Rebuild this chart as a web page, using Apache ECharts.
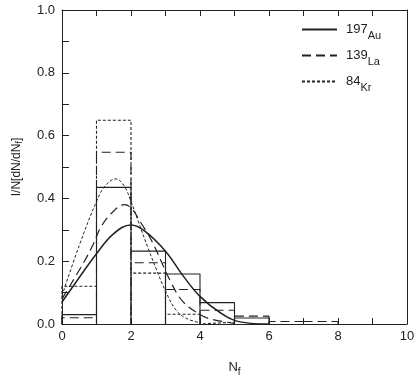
<!DOCTYPE html>
<html>
<head>
<meta charset="utf-8">
<script src="https://cdn.jsdelivr.net/npm/echarts@6/dist/echarts.min.js"></script>
<style>
  html, body { margin: 0; padding: 0; background: #fff; }
  #chart { width: 419px; height: 382px; }
</style>
</head>
<body>
<div id="chart"></div>
<script>
// histogram bins (Nf = 0..8, width 1)
var binEdges = [0, 1, 2, 3, 4, 5, 6, 7, 8];
var auHist = [0.03, 0.435, 0.232, 0.159, 0.068, 0.019, 0, 0];
var laHist = [0.02, 0.547, 0.195, 0.11, 0.044, 0.025, 0.008, 0.008];
var krHist = [0.12, 0.649, 0.162, 0.031, 0.006, 0, 0, 0];

// fitted curves
var auCurveX = [0, 0.5, 1, 1.5, 2, 2.4, 3, 3.5, 4, 4.6, 5.2, 6];
var auCurveY = [0.07, 0.148, 0.224, 0.288, 0.315, 0.296, 0.232, 0.155, 0.088, 0.035, 0.006, 0];
var laCurveX = [0, 0.65, 0.91, 1.15, 1.5, 1.8, 2, 2.3, 2.6, 3.15, 3.5, 4, 4.3, 5];
var laCurveY = [0.08, 0.2, 0.255, 0.313, 0.36, 0.38, 0.37, 0.32, 0.265, 0.135, 0.072, 0.03, 0.016, 0.002];
var krCurveX = [0, 0.5, 1, 1.25, 1.56, 1.8, 2, 2.2, 2.5, 2.75, 3, 3.3, 3.6, 4];
var krCurveY = [0.09, 0.25, 0.39, 0.44, 0.462, 0.44, 0.39, 0.33, 0.24, 0.17, 0.105, 0.045, 0.018, 0.004];

var xTicks = [0, 2, 4, 6, 8, 10];
var yTicks = ['0.0', '0.2', '0.4', '0.6', '0.8', '1.0'];

var legendNames = { Au: '{m|197}{s|Au}', La: '{m|139}{s|La}', Kr: '{m|84}{s|Kr}' };

function outline(values) {
    var pts = [];
    for (var i = 0; i < values.length; i++) {
        if (!values[i]) continue;
        pts.push([binEdges[i], 0], [binEdges[i], values[i]],
                 [binEdges[i + 1], values[i]], [binEdges[i + 1], 0]);
    }
    return pts;
}

function zip(xs, ys) {
    return xs.map(function (x, i) { return [x, ys[i]]; });
}

var ink = '#222';
var font = 'Liberation Sans';
var styles = {
    Au: { type: 'solid' },
    La: { type: [9, 5] },
    Kr: { type: [3, 2] }
};

function histSeries(name, values) {
    return {
        name: name + ' hist',
        type: 'line',
        data: outline(values),
        symbol: 'none',
        silent: true,
        itemStyle: { color: ink },
        lineStyle: { color: ink, width: 1.1, type: styles[name].type }
    };
}

function curveSeries(name, xs, ys, width) {
    return {
        name: name,
        type: 'line',
        data: zip(xs, ys),
        smooth: 0.4,
        symbol: 'none',
        itemStyle: { color: ink },
        lineStyle: { color: ink, width: width, type: styles[name].type }
    };
}

var chart = echarts.init(document.getElementById('chart'));
var option = {
    animation: false,
    color: [ink],
    textStyle: { fontFamily: font },
    grid: { left: 62, right: 12, top: 10, bottom: 58 },
    legend: {
        data: ['Au', 'La', 'Kr'],
        orient: 'vertical',
        left: 296,
        top: 18,
        itemWidth: 35,
        itemHeight: 10,
        itemGap: 8,
        itemStyle: { opacity: 0 },
        formatter: function (n) { return legendNames[n]; },
        textStyle: {
            padding: [0, 0, 0, 4],
            rich: {
                m: { fontSize: 13, color: ink, fontFamily: font },
                s: { fontSize: 11, color: ink, fontFamily: font, padding: [12, 0, 0, 0] }
            }
        }
    },
    xAxis: [{
        type: 'value',
        min: 0, max: 10, interval: 1,
        name: '{n|N}{f|f}',
        nameLocation: 'middle',
        nameGap: 34,
        nameTextStyle: {
            rich: {
                n: { fontSize: 13, color: ink, fontFamily: font },
                f: { fontSize: 10, color: ink, fontFamily: font, padding: [9, 0, 0, 0] }
            }
        },
        axisLine: { onZero: false, lineStyle: { color: ink, width: 1 } },
        axisTick: { inside: true, length: 6, lineStyle: { color: ink } },
        axisLabel: {
            margin: 6, fontSize: 13, color: ink,
            formatter: function (v) { return xTicks.indexOf(v) >= 0 ? String(v) : ''; }
        },
        splitLine: { show: false }
    }, {
        type: 'value',
        position: 'top',
        min: 0, max: 10, interval: 1,
        axisLine: { onZero: false, lineStyle: { color: ink, width: 1 } },
        axisTick: { inside: true, length: 6, lineStyle: { color: ink } },
        axisLabel: { show: false },
        splitLine: { show: false }
    }],
    yAxis: [{
        type: 'value',
        min: 0, max: 1, interval: 0.1,
        name: '{a|I/N[dN/dN}{f|f}{a|]}',
        nameLocation: 'middle',
        nameGap: 38,
        nameRotate: 90,
        nameTextStyle: {
            rich: {
                a: { fontSize: 12, color: ink, fontFamily: font },
                f: { fontSize: 9, color: ink, fontFamily: font, padding: [6, 0, 0, 0] }
            }
        },
        axisLine: { show: true, onZero: false, lineStyle: { color: ink, width: 1 } },
        axisTick: { show: true, inside: true, length: 7, lineStyle: { color: ink } },
        axisLabel: {
            margin: 7, fontSize: 13, color: ink,
            formatter: function (v) {
                var s = v.toFixed(1);
                return yTicks.indexOf(s) >= 0 ? s : '';
            }
        },
        splitLine: { show: false }
    }, {
        type: 'value',
        position: 'right',
        min: 0, max: 1, interval: 0.1,
        axisLine: { show: true, onZero: false, lineStyle: { color: ink, width: 1 } },
        axisTick: { show: false },
        axisLabel: { show: false },
        splitLine: { show: false }
    }],
    series: [
        histSeries('Au', auHist),
        histSeries('La', laHist),
        histSeries('Kr', krHist),
        curveSeries('Au', auCurveX, auCurveY, 1.5),
        curveSeries('La', laCurveX, laCurveY, 1.2),
        curveSeries('Kr', krCurveX, krCurveY, 1)
    ]
};
chart.setOption(option);
</script>
</body>
</html>
